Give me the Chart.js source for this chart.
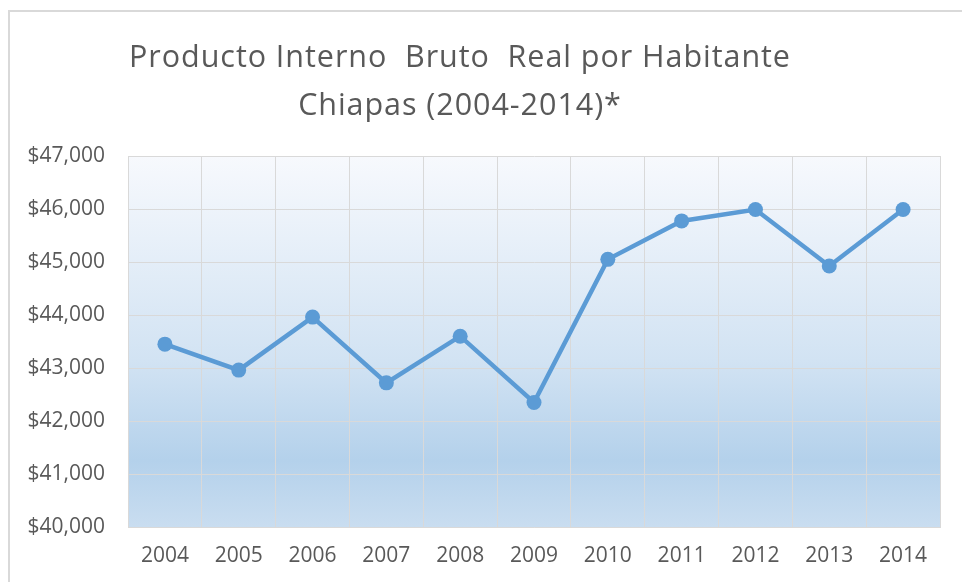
<!DOCTYPE html>
<html>
<head>
<meta charset="utf-8">
<script src="https://cdn.jsdelivr.net/npm/chart.js@4"></script>
<style>
  html, body { margin: 0; padding: 0; background: #fff; overflow: hidden; }
  #wrap { position: relative; width: 962px; height: 582px; }
  #frame { position: absolute; left: 8px; top: 10px; width: 1000px; height: 620px; border: 2px solid #d9d9d9; box-sizing: border-box; }
  #title { position: absolute; left: 0; top: 31px; width: 920px; text-align: center;
           font-family: "Open Sans", sans-serif; font-size: 30.5px; letter-spacing: 0.95px; color: #595959; line-height: 48px; white-space: pre; }
  canvas { position: absolute; left: 0; top: 0; }
</style>
</head>
<body>
<div id="wrap">
  <div id="frame"></div>
  <canvas id="c" width="962" height="582"></canvas>
  <div id="title">Producto Interno  Bruto  Real por Habitante
Chiapas (2004-2014)*</div>
</div>
<script>
const years = ["2004","2005","2006","2007","2008","2009","2010","2011","2012","2013","2014"];
const pibPerCapita = [43450, 42960, 43960, 42720, 43600, 42350, 45050, 45775, 45990, 44925, 45990];
const yMin = 40000;
const yMax = 47000;
const yStep = 1000;

const bgPlugin = {
  id: 'areaBg',
  beforeDraw(chart) {
    const { ctx, chartArea: a } = chart;
    const g = ctx.createLinearGradient(0, a.top, 0, a.bottom);
    g.addColorStop(0, '#f7f9fd');
    g.addColorStop(0.55, '#d2e3f3');
    g.addColorStop(0.82, '#b4d1eb');
    g.addColorStop(1, '#c9ddf0');
    ctx.save();
    ctx.fillStyle = g;
    ctx.fillRect(a.left, a.top, a.right - a.left, a.bottom - a.top);
    ctx.restore();
  }
};

new Chart(document.getElementById('c'), {
  type: 'line',
  data: {
    labels: years,
    datasets: [{
      data: pibPerCapita,
      borderColor: '#5b9bd5',
      backgroundColor: '#5b9bd5',
      borderWidth: 4.5,
      pointRadius: 7.5,
      pointHoverRadius: 7.5,
      pointBorderWidth: 0,
      tension: 0,
      fill: false
    }]
  },
  options: {
    responsive: false,
    animation: false,
    events: [],
    layout: { padding: { top: 156, right: 22, left: 0, bottom: 0 } },
    plugins: { legend: { display: false }, title: { display: false }, tooltip: { enabled: false } },
    scales: {
      x: {
        offset: true,
        grid: { offset: true, color: '#d9d9d9', lineWidth: 1, drawTicks: false },
        border: { display: true, color: '#d9d9d9' },
        ticks: { color: '#595959', font: { family: '"Open Sans", sans-serif', size: 21 }, padding: 16, maxRotation: 0 },
        afterFit(s) { s.height = 55; }
      },
      y: {
        min: yMin, max: yMax,
        grid: { color: '#d9d9d9', lineWidth: 1, drawTicks: false },
        border: { display: true, color: '#d9d9d9' },
        ticks: {
          stepSize: yStep,
          color: '#595959',
          font: { family: '"Open Sans", sans-serif', size: 21 },
          padding: 23,
          callback: v => '$' + v.toLocaleString('en-US')
        },
        afterFit(s) { s.width = 128; }
      }
    }
  },
  plugins: [bgPlugin]
});
</script>
</body>
</html>
